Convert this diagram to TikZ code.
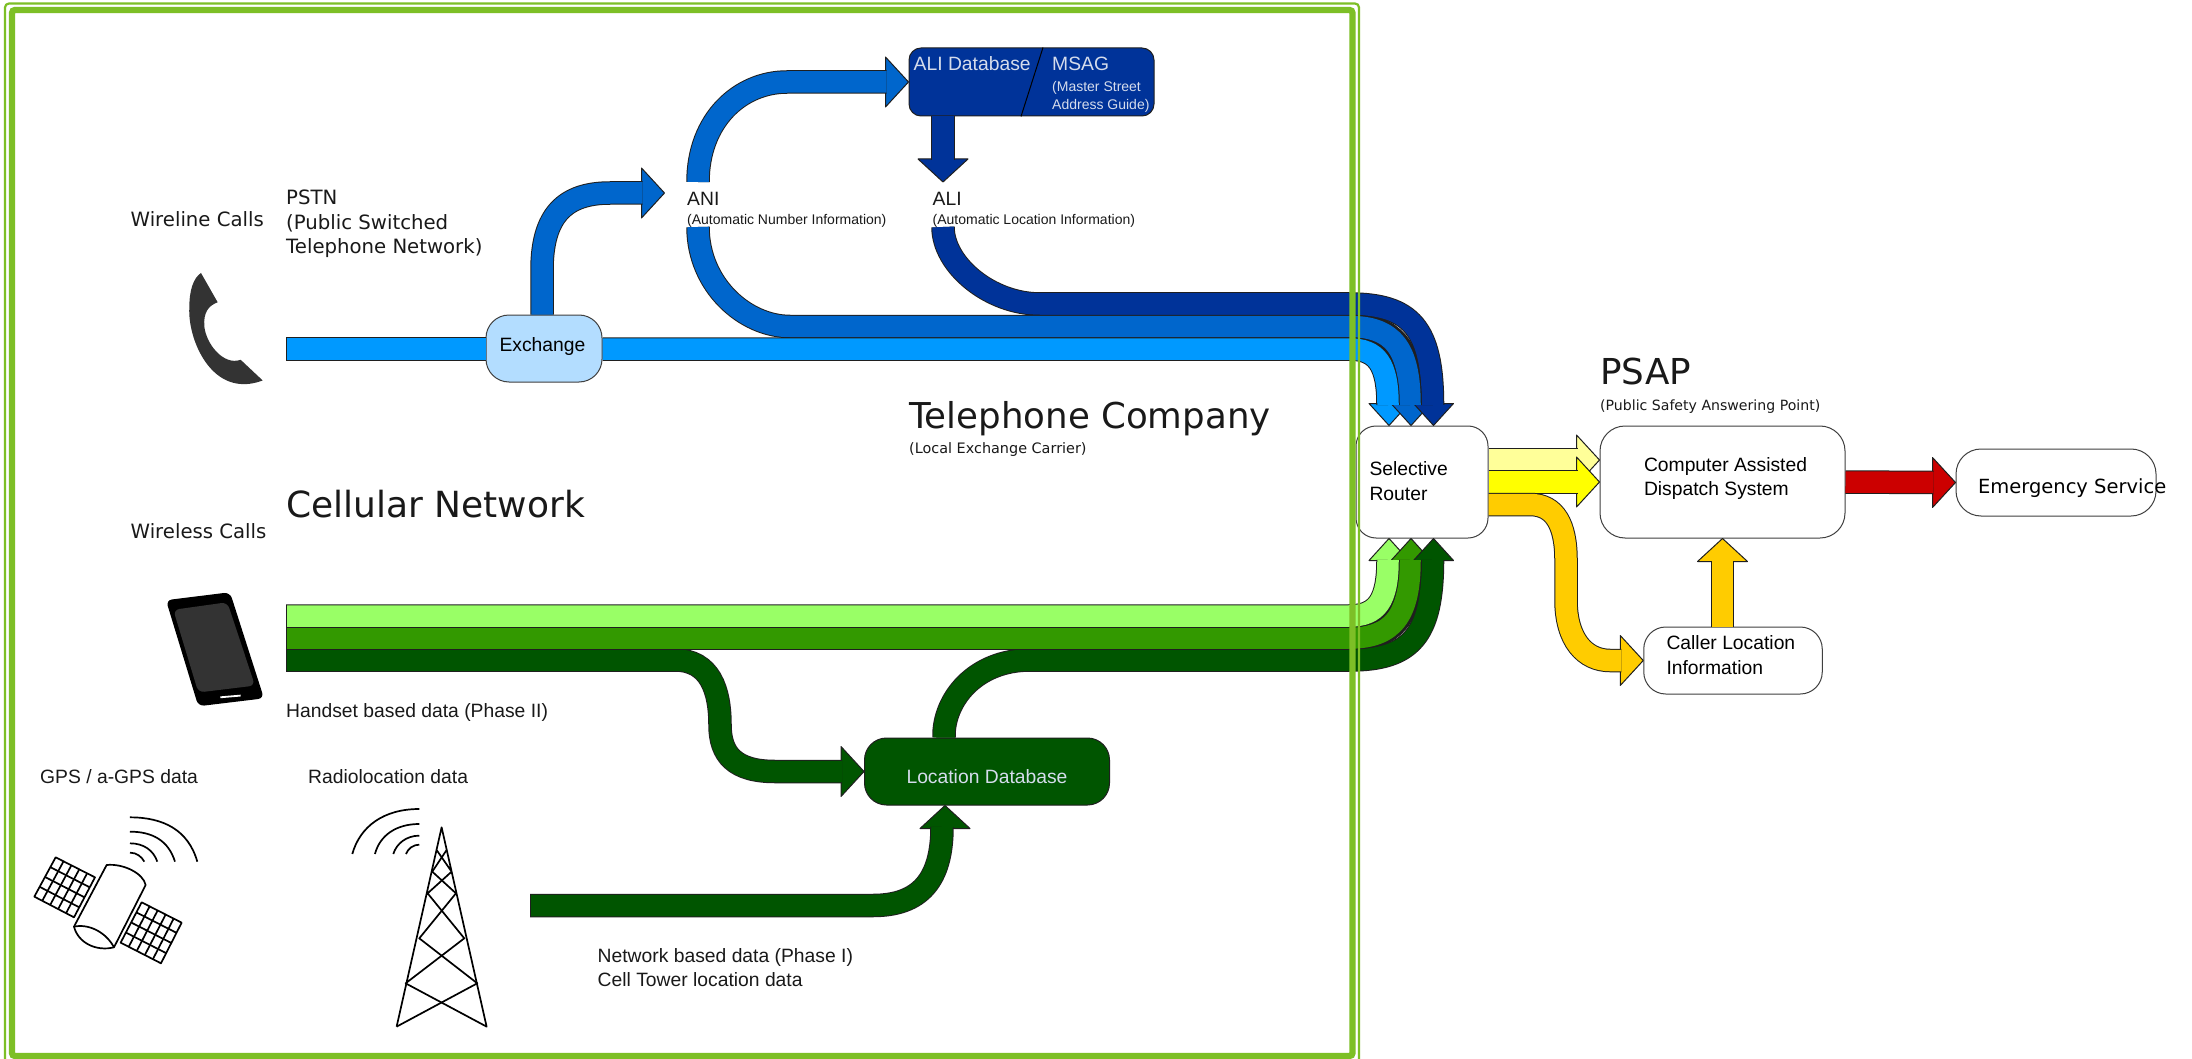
\documentclass[tikz,border=0pt]{standalone}
\usepackage{fontspec}
\setmainfont{Liberation Sans}
\newfontfamily\dv{DejaVu Sans}
\usetikzlibrary{calc}
\definecolor{edgec}{HTML}{1F1F1F}
\definecolor{lblue}{HTML}{0099FF}
\definecolor{mblue}{HTML}{0066CC}
\definecolor{dblue}{HTML}{003399}
\definecolor{lgreen}{HTML}{99FF66}
\definecolor{mgreen}{HTML}{339900}
\definecolor{dgreen}{HTML}{005500}
\definecolor{lyellow}{HTML}{FFFF99}
\definecolor{myellow}{HTML}{FFFF00}
\definecolor{orangey}{HTML}{FFCC00}
\definecolor{redc}{HTML}{CC0000}
\definecolor{framec}{HTML}{7DBF26}
\definecolor{paletxt}{HTML}{D5DCEC}
\definecolor{iconc}{HTML}{333333}
\tikzset{
  boxn/.style={draw=black!75,line width=1pt,rounded corners=#1,inner sep=0pt,fill=white},
  flowb/.style={line width=1pt,draw=edgec,double=#1,double distance=21.5pt},
  underlay/.style={line width=26.5pt,draw=edgec},
  txt/.style={anchor=base west,inner sep=0pt,font=\fontsize{19.3}{24}\selectfont,text=black!90},
  small/.style={txt,font=\fontsize{14}{18}\selectfont},
  dvt/.style={txt,font=\dv\fontsize{19.7}{24.5}\selectfont},
  big/.style={txt,font=\dv\fontsize{35.7}{40}\selectfont},
  icon/.style={line width=1.7pt,draw=black,line join=round},
}
\newcommand{\headtip}[5]{\draw[line width=1pt,draw=edgec,fill=#3,line join=round,shift={(#1)},rotate=#2] (0,0) -- (-#5,#4) -- (-#5,-#4) -- cycle;}
\newcommand{\capline}[1]{\draw[line width=1pt,draw=edgec] ([yshift=11.5pt]#1) -- ([yshift=-11.5pt]#1);}
% one line, its baseline #1 pt from the node centre
\newcommand{\oneline}[2]{\raisebox{#1}[0pt][0pt]{#2}}
% two left-aligned lines in a block of width #1
\newcommand{\twolines}[5]{\makebox[#1][l]{\raisebox{#2}[0pt][0pt]{\rlap{#4}}\raisebox{#3}[0pt][0pt]{\rlap{#5}}}}
\begin{document}
\begin{tikzpicture}[x=1pt,y=-1pt]
\useasboundingbox (0,0) rectangle (2192,1059);
\fill[white] (0,0) rectangle (2192,1059);

% boxes
\node[boxn=20pt,minimum width=132pt,minimum height=112pt,font=\fontsize{19.3}{25}\selectfont] (router) at (1422,482) {\twolines{105pt}{7pt}{-18.5pt}{Selective}{Router}};
\node[boxn=25pt,minimum width=245pt,minimum height=112pt,font=\fontsize{19.3}{24}\selectfont] (cad) at (1722.5,482) {\twolines{157pt}{10.3pt}{-13.7pt}{Computer Assisted}{Dispatch System}};
\node[boxn=25pt,minimum width=200pt,minimum height=67pt,font=\dv\fontsize{19.5}{24}\selectfont] (ems) at (2056,482.5) {\makebox[156pt][l]{\oneline{-10.5pt}{Emergency Service}}};
\node[boxn=22pt,minimum width=178.5pt,minimum height=67pt,font=\fontsize{19.3}{25}\selectfont] (caller) at (1733,660.5) {\twolines{133pt}{11.5pt}{-13.5pt}{Caller Location}{Information}};
\node[boxn=23pt,minimum width=116pt,minimum height=67pt,fill={rgb,255:red,179;green,221;blue,255},font=\fontsize{19.3}{24}\selectfont] (exch) at (544,348.5) {\makebox[89pt][l]{\oneline{-3pt}{Exchange}}};
\node[boxn=12pt,draw=edgec,minimum width=245pt,minimum height=68pt,fill=dblue] (alidb) at (1031.5,82) {};
\node[boxn=22pt,draw=edgec,minimum width=245pt,minimum height=67pt,fill=dgreen,text=paletxt,font=\fontsize{19.3}{24}\selectfont] (locdb) at (987,771.5) {\oneline{-11.5pt}{Location Database}};
\draw[line width=1pt,draw=black] ([xshift=11.5pt]alidb.north) -- ([xshift=-10.5pt]alidb.south);

% free ends of the flows
\coordinate (wl) at (286,349);
\coordinate (wgl) at (286,616);
\coordinate (wgm) at (286,638);
\coordinate (wgd) at (286,660);
\coordinate (net) at (530,905.5);
\coordinate (aniup) at (698,182);
\coordinate (anidown) at (698,227);
\coordinate (aliarrow) at (943,182);
\coordinate (alidown) at (943,227);
\coordinate (topB) at (1349,304);
\coordinate (topM) at (1349,326.5);
\coordinate (topL) at (1349,349);
\coordinate (botL) at (1349,616);
\coordinate (botM) at (1349,638);
\coordinate (botD) at (1349,660);
\coordinate (aniin) at (664.5,193);

% tips
\coordinate (tA) at ([xshift=-33pt]router.north);
\coordinate (tB) at ([xshift=-11pt]router.north);
\coordinate (tC) at ([xshift=11.5pt]router.north);
\coordinate (bA) at ([xshift=-33pt]router.south);
\coordinate (bB) at ([xshift=-11pt]router.south);
\coordinate (bC) at ([xshift=11.5pt]router.south);
\coordinate (yA) at ([yshift=22pt]cad.west);
\coordinate (yB) at (cad.west);
\coordinate (oT) at (caller.west);
\coordinate (oU) at (cad.south);
\coordinate (rT) at (ems.west);
\coordinate (dbIn) at (alidb.west);
\coordinate (ldbIn) at (locdb.west);
\coordinate (ldbUp) at ([xshift=-42pt]locdb.south);

% wireline flows
\headtip{tA}{270}{lblue}{20}{22}
\headtip{tB}{270}{mblue}{20}{22}
\headtip{tC}{270}{dblue}{20}{22}
\draw[underlay] (topM) .. controls (1393,326.5) and (1410,348) .. (1410,400);
\draw[flowb=dblue] (alidown) .. controls (943,265) and (990,304) .. (1040,304) -- (topB) .. controls (1411,304) and (1432.5,328) .. (1432.5,405);
\draw[flowb=mblue] (anidown) .. controls (698,285) and (745,326.5) .. (790,326.5) -- (topM) .. controls (1393,326.5) and (1410,348) .. (1410,405);
\draw[flowb=lblue] (wl) -- (exch.west |- wl);
\capline{wl}
\draw[flowb=lblue] (exch.east |- wl) -- (topL) .. controls (1377,349) and (1388,364) .. (1388,405);

\headtip{aniin}{0}{mblue}{25}{23}
\draw[flowb=mblue] ([xshift=-2pt]exch.north) -- (542,270) .. controls (542,215) and (565,193) .. (610,193) -- ([xshift=-22pt]aniin);
\headtip{dbIn}{0}{mblue}{25}{23}
\draw[flowb=mblue] (aniup) .. controls (698,120) and (740,82) .. (787,82) -- ([xshift=-22pt]dbIn);
\headtip{aliarrow}{270}{dblue}{25}{23}
\draw[flowb=dblue] (alidown |- alidb.south) -- ([yshift=22pt]aliarrow);

% wireless flows
\headtip{bA}{90}{lgreen}{20}{22}
\headtip{bB}{90}{mgreen}{20}{22}
\headtip{bC}{90}{dgreen}{20}{22}
\headtip{ldbIn}{0}{dgreen}{25}{23}
\draw[flowb=dgreen] (wgd) -- (675,660) .. controls (710,660) and (720,690) .. (720,725) .. controls (720,755) and (735,771.5) .. (775,771.5) -- ([xshift=-22pt]ldbIn);
\capline{wgd}
\draw[underlay] (botM) .. controls (1393,638) and (1410,616) .. (1410,565);
\draw[flowb=dgreen] ([xshift=-1pt]ldbUp |- locdb.north) .. controls (943,700) and (975,660) .. (1030,660) -- (botD) .. controls (1411,660) and (1432.5,636) .. (1432.5,560);
\draw[flowb=mgreen] (wgm) -- (botM) .. controls (1393,638) and (1410,616) .. (1410,560);
\capline{wgm}
\draw[flowb=lgreen] (wgl) -- (botL) .. controls (1377,616) and (1388,601) .. (1388,560);
\capline{wgl}
\headtip{ldbUp}{90}{dgreen}{25}{23}
\draw[flowb=dgreen] (net) -- (873,905.5) .. controls (920,905.5) and (942,880) .. (942,827);
\capline{net}

% PSAP flows
\headtip{yA}{0}{lyellow}{25}{23}
\draw[flowb=lyellow] ([yshift=22pt]router.east) -- ([xshift=-22pt]yA);
\headtip{yB}{0}{myellow}{25}{23}
\draw[flowb=myellow] (router.east) -- ([xshift=-22pt]yB);
\headtip{oT}{0}{orangey}{25}{23}
\draw[flowb=orangey] ([yshift=-22.5pt]router.east) -- (1530,504.5) .. controls (1555,504.5) and (1566,525) .. (1566,560) -- (1566,600) .. controls (1566,640) and (1585,660.5) .. (1610,660.5) -- ([xshift=-22pt]oT);
\headtip{oU}{90}{orangey}{25}{23}
\draw[flowb=orangey] (oU |- caller.north) -- ([yshift=-22pt]oU);
\headtip{rT}{0}{redc}{25}{23}
\draw[flowb=redc] (cad.east) -- ([xshift=-22pt]rT);

% texts
\node[dvt] (wirelinecalls) at (130.5,226.5) {Wireline Calls};
\node[dvt] (pstnA) at (286,204.5) {PSTN};
\node[dvt] (pstnB) at (286,229.5) {(Public Switched};
\node[dvt] (pstnC) at (286,254) {Telephone Network)};
\node[big,font=\dv\fontsize{36}{40}\selectfont] (cellnet) at (286,517) {Cellular Network};
\node[dvt] (wirelesscalls) at (130.5,538) {Wireless Calls};
\node[txt] (handset) at (286,717) {Handset based data (Phase II)};
\node[txt] (gps) at (40,783) {GPS / a-GPS data};
\node[txt] (radioloc) at (308,783) {Radiolocation data};
\node[txt] (netA) at (597.5,962) {Network based data (Phase I)};
\node[txt] (netB) at (597.5,986) {Cell Tower location data};
\node[txt] (ani) at (687,205.5) {ANI};
\node[small] (aniL) at (687,225) {(Automatic Number Information)};
\node[txt] (ali) at (932.5,205.5) {ALI};
\node[small] (aliL) at (932.5,225) {(Automatic Location Information)};
\node[big,font=\dv\fontsize{35.6}{40}\selectfont] (telco) at (909,428) {Telephone Company};
\node[small,font=\dv\fontsize{14.4}{16}\selectfont] (lec) at (909,453) {(Local Exchange Carrier)};
\node[big] (psap) at (1600,384) {PSAP};
\node[small,font=\dv\fontsize{14.1}{16}\selectfont] (psapL) at (1600,410) {(Public Safety Answering Point)};
\node[txt,text=paletxt] (alit) at (913.5,71) {ALI Database};
\node[txt,text=paletxt] (msag) at (1052,71) {MSAG};
\node[small,text=paletxt] (msagA) at (1052,92) {(Master Street};
\node[small,text=paletxt] (msagB) at (1052,110) {Address Guide)};

% telephone and smartphone
\begin{scope}[shift={(120pt,-180pt)},x=.3333pt,y=-.3444pt]
\fill[iconc] (243,270) -- (293,355) .. controls (265,365) and (250,385) .. (253,425) .. controls (258,475) and (310,540) .. (362,522) -- (428,582) .. controls (380,600) and (320,600) .. (270,545) .. controls (225,495) and (205,420) .. (208,370) .. controls (208,320) and (220,285) .. (243,270) -- cycle;
\fill[black,rounded corners=6pt] (138,1220) -- (330,1197) -- (432,1505) -- (235,1528) -- cycle;
\fill[iconc,rounded corners=6pt] (160,1248) -- (322,1226) -- (405,1468) -- (235,1488) -- cycle;
\draw[white,line width=1.8pt] (301,1502) -- (362,1497);
\end{scope}

% satellite and tower
\begin{scope}[shift={(0pt,-740pt)},x=.3333pt,y=-.3333pt]
\draw[icon,fill=white] (320,375) .. controls (370,370) and (430,400) .. (437,435) -- (342,622) .. controls (290,635) and (235,610) .. (222,560) -- cycle;
\draw[icon] (222,560) .. controls (270,550) and (320,580) .. (342,622);
\coordinate (pa) at (167,352); \coordinate (pb) at (285,412); \coordinate (pc) at (222,532); \coordinate (pd) at (103,470);
\draw[icon] (pa) -- (pb) -- (pc) -- (pd) -- cycle;
\foreach \i in {1,...,4}{\draw[icon] ($(pa)!\i/5!(pb)$) -- ($(pd)!\i/5!(pc)$);}
\foreach \i in {1,...,3}{\draw[icon] ($(pa)!\i/4!(pd)$) -- ($(pb)!\i/4!(pc)$);}
\coordinate (qa) at (425,487); \coordinate (qb) at (545,548); \coordinate (qc) at (483,670); \coordinate (qd) at (362,608);
\draw[icon] (qa) -- (qb) -- (qc) -- (qd) -- cycle;
\foreach \i in {1,...,4}{\draw[icon] ($(qa)!\i/5!(qb)$) -- ($(qd)!\i/5!(qc)$);}
\foreach \i in {1,...,3}{\draw[icon] ($(qa)!\i/4!(qd)$) -- ($(qb)!\i/4!(qc)$);}
\draw[icon] (390,232) .. controls (490,232) and (565,270) .. (592,365);
\draw[icon] (390,275) .. controls (455,275) and (505,300) .. (525,365);
\draw[icon] (390,310) .. controls (430,310) and (460,330) .. (472,365);
\draw[icon] (390,338) .. controls (410,338) and (425,350) .. (433,365);
% tower
\draw[icon] (1190,860) -- (1325,262) -- (1460,860) -- (1217,730) -- (1393,595) -- (1283,460) -- (1355,395) -- (1310,330);
\draw[icon] (1190,860) -- (1432,730) -- (1258,595) -- (1368,460) -- (1297,395) -- (1340,330);
\draw[icon] (1258,207) .. controls (1150,207) and (1080,260) .. (1057,342);
\draw[icon] (1258,252) .. controls (1190,252) and (1140,285) .. (1125,342);
\draw[icon] (1258,287) .. controls (1220,287) and (1190,310) .. (1180,342);
\draw[icon] (1258,314) .. controls (1240,314) and (1225,325) .. (1218,342);
\end{scope}

% frame
\draw[framec,line width=6.3pt,rounded corners=3pt] (12,10) rectangle (1352.5,1056);
\draw[framec,line width=2.2pt,rounded corners=4pt] (5,3.5) rectangle (1359,1070);
\end{tikzpicture}
\end{document}
